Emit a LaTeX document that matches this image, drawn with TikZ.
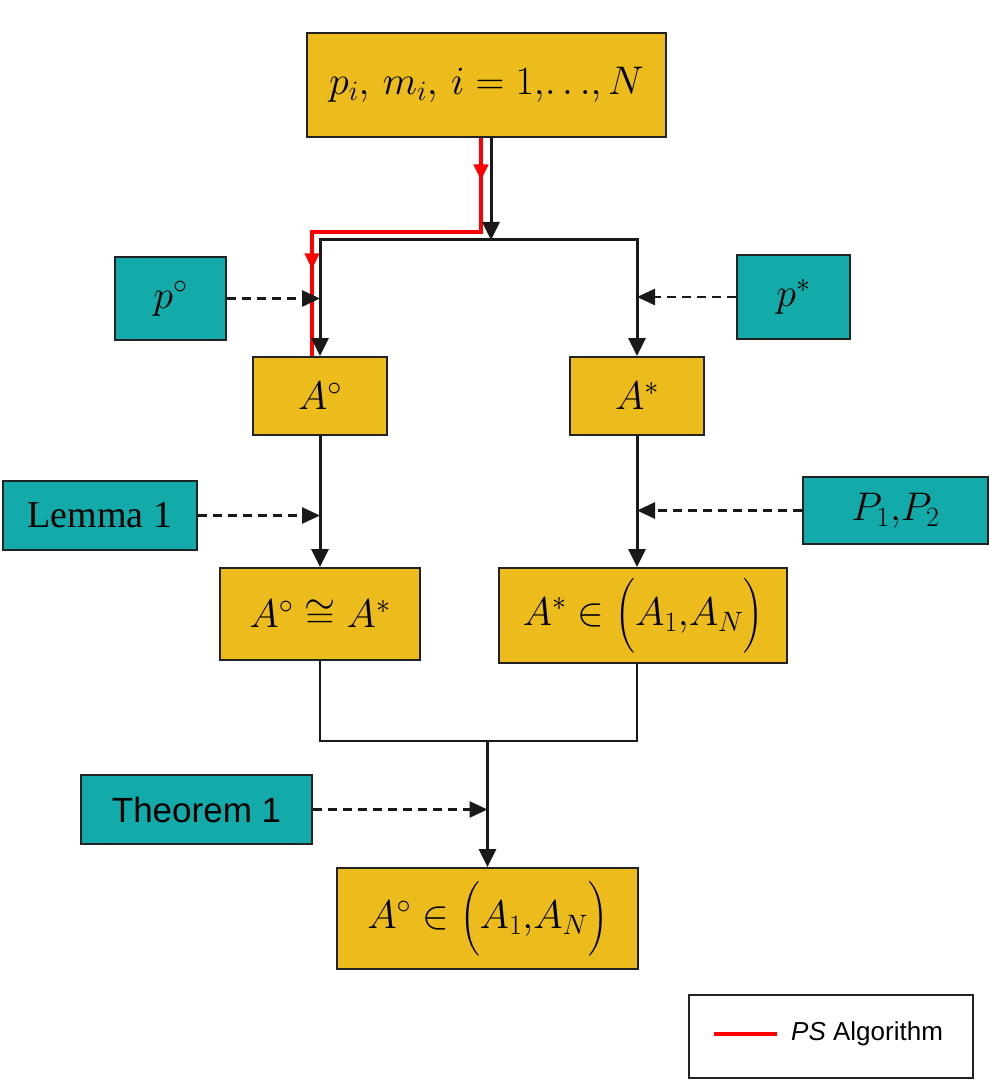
\RequirePackage{fix-cm}
\documentclass[tikz,border=0pt]{standalone}
\usepackage{amsmath}
\usepackage{fontspec}
\newfontfamily\timesrm{Liberation Serif}
\newfontfamily\arialsf{Liberation Sans}
\usetikzlibrary{arrows.meta,decorations.markings}
\definecolor{boxgold}{RGB}{236,187,28}
\definecolor{boxteal}{RGB}{19,170,170}
\definecolor{edgegray}{RGB}{34,34,34}
\begin{document}
\begin{tikzpicture}[x=1pt,y=-1pt,
  goldbox/.style={draw=edgegray, line width=1.8pt, fill=boxgold, inner sep=0pt, font=\fontsize{40}{48}\selectfont},
  tealbox/.style={draw=edgegray, line width=1.8pt, fill=boxteal, inner sep=0pt, font=\fontsize{40}{48}\selectfont},
  arr/.style={black!90, line width=3pt, -{Triangle[length=18pt, width=17pt]}},
  dasharr/.style={black!90, line width=2.8pt, dash pattern=on 9pt off 6pt, -{Triangle[length=18pt, width=16pt]}},
  redpath/.style={red, line width=4pt, postaction={decorate, decoration={markings,
    mark=at position 0.11 with {\arrow{Triangle[length=16pt, width=14pt]}},
    mark=at position 0.776 with {\arrow{Triangle[length=16pt, width=14pt]}}}}}]
\useasboundingbox (0,0) rectangle (989,1083);
\node[goldbox, minimum width=359pt, minimum height=104pt] (top) at (486.5,85) {$p_i,\, m_i,\, i=1,\!\ldots\!,N$};
\node[tealbox, minimum width=111pt, minimum height=83pt] (po) at (170.5,298.5) {$p^\circ$};
\node[tealbox, minimum width=113pt, minimum height=84pt] (ps) at (793.5,297) {$p^*$};
\node[goldbox, minimum width=134pt, minimum height=78pt] (Ao) at (320,396) {$A^\circ$};
\node[goldbox, minimum width=134pt, minimum height=78pt] (As) at (637,396) {$A^*$};
\node[tealbox, minimum width=194pt, minimum height=69pt, font=\timesrm\fontsize{38}{44}\selectfont] (lem) at (100,515.5) {Lemma 1};
\node[tealbox, minimum width=185pt, minimum height=67pt] (pp) at (895.5,510.5) {$P_1{,}P_2$};
\node[goldbox, minimum width=200pt, minimum height=92pt] (AoAs) at (320,614) {$A^\circ\cong A^*$};
\node[goldbox, minimum width=288pt, minimum height=95pt] (AsIn) at (643,615.5) {$A^*\in\Bigl(A_1{,}A_N\Bigr)$};
\node[tealbox, minimum width=231pt, minimum height=69pt, font=\arialsf\fontsize{35}{42}\selectfont] (thm) at (196.5,809.5) {Theorem 1};
\node[goldbox, minimum width=301pt, minimum height=101pt] (fin) at (487.5,918.5) {$A^\circ\in\Bigl(A_1{,}A_N\Bigr)$};
\coordinate (split) at (491,240);
\coordinate (rturn) at (312,232);
\coordinate (join) at (487.5,741);
\draw[redpath] ([xshift=-5.5pt]top.south) |- (rturn) -- (rturn |- Ao.north);
\draw[arr] ([xshift=4.5pt]top.south) -- (split);
\draw[arr] (split) -| (Ao.north);
\draw[arr] (split) -| (As.north);
\draw[dasharr] (po.east) -- (po.east -| Ao.north);
\draw[dasharr] (ps.west) -- (ps.west -| As.north);
\draw[arr] (Ao.south) -- (AoAs.north);
\draw[arr] (As.south) -- (As.south |- AsIn.north);
\draw[dasharr] (lem.east) -- (lem.east -| Ao.south);
\draw[dasharr] (pp.west) -- (pp.west -| As.south);
\draw[black!90, line width=1.8pt] (AoAs.south) |- (join -| As.south) -- (As.south |- AsIn.south);
\draw[arr] (join) -- (fin.north);
\draw[dasharr] (thm.east) -- (thm.east -| join);
\node[draw=edgegray, line width=1.8pt, minimum width=284pt, minimum height=83pt] (legend) at (831,1036.5) {};
\node[anchor=west, inner sep=0pt, font=\arialsf\fontsize{26}{30}\selectfont] (legtxt) at (791,1034) {\textit{PS} Algorithm};
\draw[red, line width=4pt] ([xshift=-14pt]legtxt.west) -- ++(-63,0);
\end{tikzpicture}
\end{document}
